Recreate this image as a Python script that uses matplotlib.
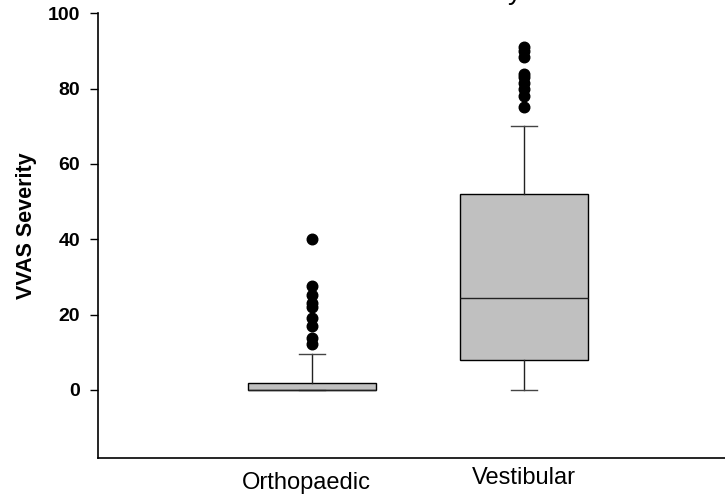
import matplotlib
matplotlib.use("Agg")
import matplotlib.pyplot as plt
from matplotlib.transforms import ScaledTranslation

categories = ["Orthopaedic", "Vestibular"]
q1 = [0.0, 7.9]
median = [0.0, 24.5]
q3 = [1.9, 51.9]
whisker_low = [0.0, 0.0]
whisker_high = [9.6, 70.0]
outliers_ortho = [40.2, 27.7, 25.3, 23.0, 21.9, 19.0, 17.0, 13.7, 12.2]
outliers_vest = [91.0, 90.0, 88.5, 84.0, 83.0, 81.5, 80.0, 78.0, 75.2]
y_ticks = [0, 20, 40, 60, 80, 100]

plt.rcParams['font.family'] = ['Liberation Sans', 'DejaVu Sans']

fig = plt.figure(figsize=(7.25, 4.96), dpi=100)
ax = fig.add_axes([98.3 / 725, 1 - 457.7 / 496, 1 - 98.3 / 725, (457.7 - 13.3) / 496])

stats = []
for i, name in enumerate(categories):
    stats.append(dict(label=name, q1=q1[i], med=median[i], q3=q3[i],
                      whislo=whisker_low[i], whishi=whisker_high[i],
                      fliers=[outliers_ortho, outliers_vest][i]))

positions = [1, 2]
ax.bxp(stats, positions=positions, widths=0.603, patch_artist=True,
       boxprops=dict(facecolor="#c0c0c0", edgecolor="black", linewidth=1.0),
       medianprops=dict(color="#222222", linewidth=1.0),
       whiskerprops=dict(color="#222222", linewidth=1.0),
       capprops=dict(color="#444444", linewidth=1.0),
       capwidths=0.123,
       flierprops=dict(marker="o", markerfacecolor="black", markeredgecolor="black",
                       markersize=7.6, linestyle="none"))

ax.set_xlim(-0.005, 2.947)
ax.set_ylim(-18, 100)
ax.set_yticks(y_ticks)
ax.set_yticklabels([str(v) for v in y_ticks], fontsize=14, fontweight="bold")
ax.tick_params(axis="y", length=6, width=1, pad=7)
ax.set_ylabel("VVAS Severity", fontsize=15.5, fontweight="bold")
ax.yaxis.set_label_coords(-0.0978, 0.521)

ax.set_xticks(positions)
ax.set_xticklabels(categories, fontsize=17)
ax.tick_params(axis="x", length=0, pad=7)
lbls = ax.get_xticklabels()
lbls[0].set_transform(lbls[0].get_transform() + ScaledTranslation(-5 / 100, -5 / 100, fig.dpi_scale_trans))

for s in ["top", "right"]:
    ax.spines[s].set_visible(False)
for s in ["left", "bottom"]:
    ax.spines[s].set_linewidth(1.2)

fig.text(522 / 725, 1 + 1 / 496, "VVAS Severity", ha="right", va="baseline", fontsize=20)

fig.savefig("out.png", dpi=100)
